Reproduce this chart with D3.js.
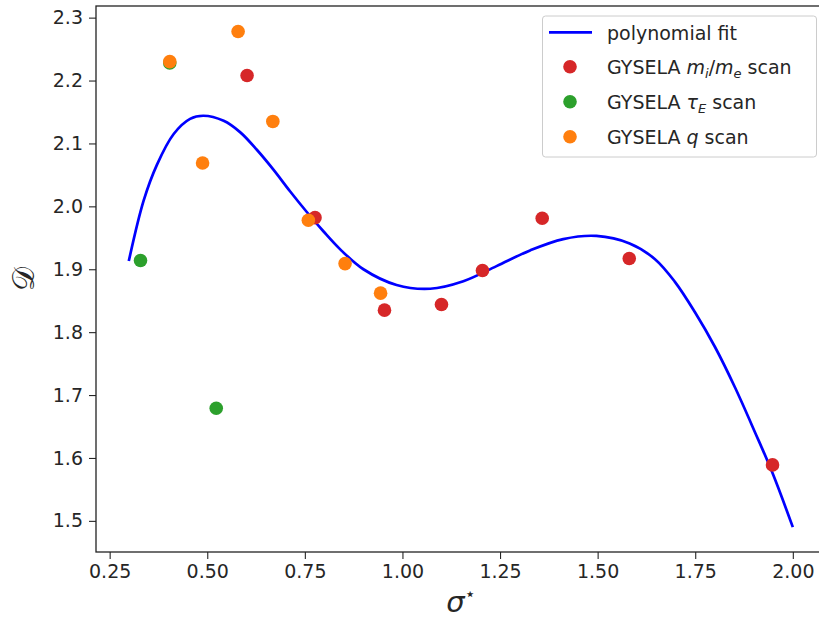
<!DOCTYPE html>
<html>
<head>
<meta charset="utf-8">
<script src="https://cdn.jsdelivr.net/npm/d3@7"></script>
<style>
  body { margin: 0; background: #fff; }
  text { font-family: "DejaVu Sans", sans-serif; fill: #262626; }
</style>
</head>
<body>
<div class="chart"></div>
<script>
// polynomial fit
var fitX = [0.299, 0.337, 0.371, 0.414, 0.456, 0.490, 0.542, 0.584, 0.627, 0.670, 0.712, 0.755, 0.798, 0.840, 0.900, 0.985, 1.071, 1.156, 1.241, 1.327, 1.412, 1.497, 1.582, 1.647, 1.698, 1.749, 1.801, 1.852, 1.903, 1.948, 2.000]
var fitY = [1.913, 2.009, 2.066, 2.115, 2.139, 2.144, 2.136, 2.118, 2.090, 2.058, 2.024, 1.991, 1.960, 1.932, 1.900, 1.875, 1.869, 1.881, 1.905, 1.930, 1.948, 1.953, 1.941, 1.916, 1.880, 1.832, 1.776, 1.712, 1.641, 1.576, 1.490]

// GYSELA scans
var massX = [0.602, 0.776, 0.954, 1.100, 1.205, 1.358, 1.581, 1.948]
var massY = [2.208, 1.982, 1.835, 1.844, 1.898, 1.981, 1.917, 1.589]
var tauX = [0.329, 0.404, 0.523]
var tauY = [1.914, 2.228, 1.679]
var qX = [0.404, 0.579, 0.488, 0.668, 0.759, 0.853, 0.944]
var qY = [2.230, 2.278, 2.069, 2.135, 1.978, 1.909, 1.862]

var xTicks = [0.25, 0.50, 0.75, 1.00, 1.25, 1.50, 1.75, 2.00]
var yTicks = [1.5, 1.6, 1.7, 1.8, 1.9, 2.0, 2.1, 2.2, 2.3]

var W = 819, H = 622
var ax = { left: 96, top: 6, right: 826, bottom: 552 }

var svg = d3.select(".chart")
    .append("svg")
    .attr("width", W)
    .attr("height", H)

var x = d3.scaleLinear().domain([0.215, 2.085]).range([ax.left, ax.right])
var y = d3.scaleLinear().domain([1.4505, 2.3185]).range([ax.bottom, ax.top])

// axes
svg.append("g")
    .attr("transform", "translate(0," + ax.bottom + ")")
    .call(d3.axisBottom(x).tickValues(xTicks).tickFormat(d3.format(".2f")).tickSizeOuter(0).tickSize(7).tickPadding(6))
    .call(g => g.select(".domain").remove())
    .call(g => g.selectAll("line").attr("stroke", "#262626").attr("stroke-width", 1.1))
    .call(g => g.selectAll("text").style("font-size", "19px").attr("fill", "#262626"))

svg.append("g")
    .attr("transform", "translate(" + ax.left + ",0)")
    .call(d3.axisLeft(y).tickValues(yTicks).tickFormat(d3.format(".1f")).tickSizeOuter(0).tickSize(7).tickPadding(6))
    .call(g => g.select(".domain").remove())
    .call(g => g.selectAll("line").attr("stroke", "#262626").attr("stroke-width", 1.1))
    .call(g => g.selectAll("text").style("font-size", "19px").attr("fill", "#262626"))

// fit line
var fit = fitX.map((v, i) => [v, fitY[i]])
svg.append("path")
    .datum(fit)
    .attr("fill", "none")
    .attr("stroke", "#0000ff")
    .attr("stroke-width", 2.7)
    .attr("d", d3.line().x(d => x(d[0])).y(d => y(d[1])).curve(d3.curveCatmullRom.alpha(0.5)))

function dots(xs, ys, color) {
    svg.append("g").selectAll("circle")
        .data(xs.map((v, i) => [v, ys[i]]))
        .join("circle")
        .attr("cx", d => x(d[0]))
        .attr("cy", d => y(d[1]))
        .attr("r", 6.8)
        .attr("fill", color)
}
dots(massX, massY, "#d62728")
dots(tauX, tauY, "#2ca02c")
dots(qX, qY, "#ff7f0e")

// frame
svg.append("rect")
    .attr("x", ax.left).attr("y", ax.top)
    .attr("width", ax.right - ax.left).attr("height", ax.bottom - ax.top)
    .attr("fill", "none")
    .attr("stroke", "#222")
    .attr("stroke-width", 1.3)

// axis labels
svg.append("text")
    .attr("x", (ax.left + ax.right) / 2)
    .attr("y", 612)
    .attr("text-anchor", "middle")
    .style("font-size", "29px")
    .style("font-style", "italic")
    .text("σ")
    .append("tspan")
    .attr("dy", -12)
    .style("font-size", "18px")
    .style("font-style", "normal")
    .text("⋆")

svg.append("text")
    .attr("transform", "translate(34," + (ax.top + ax.bottom) / 2 + ") rotate(-90)")
    .attr("text-anchor", "middle")
    .style("font-family", "DejaVu Serif, serif")
    .style("font-size", "30px")
    .text("𝒟")

// legend
var lg = svg.append("g")
lg.append("rect")
    .attr("x", 542.5).attr("y", 16)
    .attr("width", 274).attr("height", 141)
    .attr("rx", 3)
    .attr("fill", "#fff").attr("fill-opacity", 0.8)
    .attr("stroke", "#cccccc")

lg.append("line")
    .attr("x1", 549).attr("x2", 592)
    .attr("y1", 32.3).attr("y2", 32.3)
    .attr("stroke", "#0000ff").attr("stroke-width", 2.7)

var rows = [
    { color: "#d62728", parts: [["GYSELA ", ""], ["m", "i"], ["i", "sub"], ["/", ""], ["m", "i"], ["e", "sub"], [" scan", ""]] },
    { color: "#2ca02c", parts: [["GYSELA ", ""], ["τ", "i"], ["E", "sub"], [" scan", ""]] },
    { color: "#ff7f0e", parts: [["GYSELA ", ""], ["q", "i"], [" scan", ""]] }
]

lg.append("text")
    .attr("x", 607).attr("y", 39.5)
    .style("font-size", "19px")
    .text("polynomial fit")

rows.forEach(function (r, k) {
    var cy = 66.8 + k * 35
    lg.append("circle")
        .attr("cx", 570).attr("cy", cy).attr("r", 6.8)
        .attr("fill", r.color)
    var t = lg.append("text")
        .attr("x", 607).attr("y", cy + 7)
        .style("font-size", "19px")
    var down = false
    r.parts.forEach(function (p) {
        var s = t.append("tspan").text(p[0])
        if (p[1] == "sub") {
            s.style("font-size", "13px").style("font-style", "italic").attr("dy", 4)
            down = true
        } else {
            if (down) { s.attr("dy", -4); down = false }
            if (p[1] == "i") s.style("font-style", "italic")
        }
    })
})
</script>
</body>
</html>
